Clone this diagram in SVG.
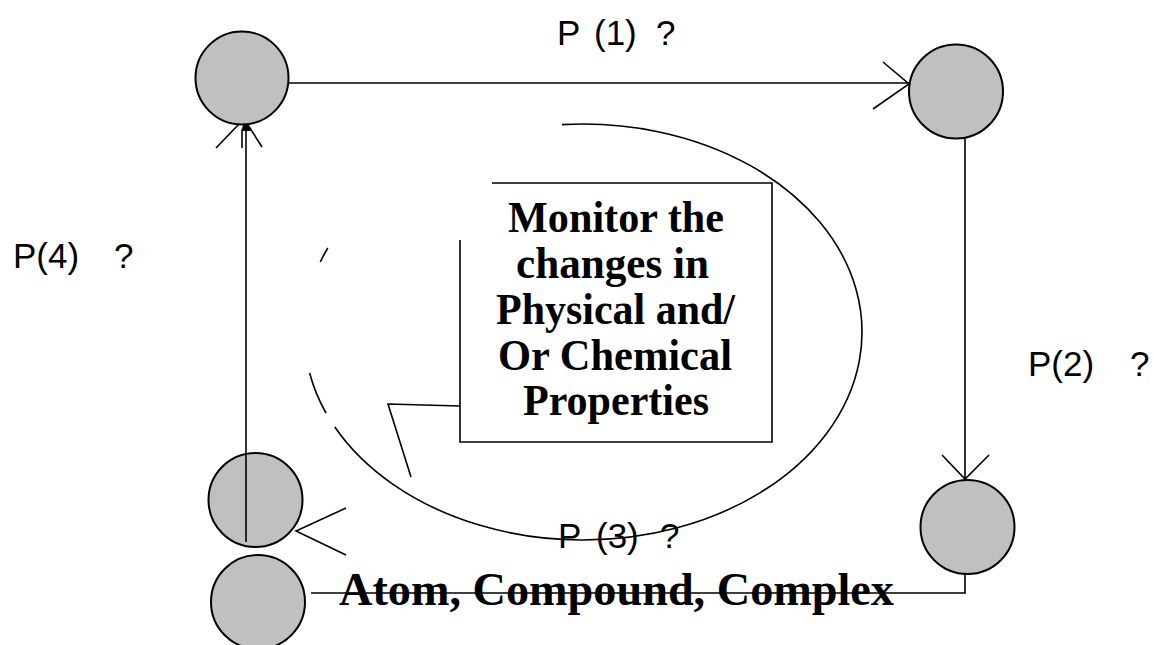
<svg xmlns="http://www.w3.org/2000/svg" width="1154" height="645" viewBox="0 0 1154 645">
<style>
.node circle{fill:#c0c0c0;stroke:#000;stroke-width:2}
.ln{fill:none;stroke:#000;stroke-width:1.6}
.lbl{font-family:"Liberation Sans",Arial,sans-serif;font-size:35px;fill:#000}
.bt{font-family:"Liberation Serif","Times New Roman",serif;font-weight:bold;fill:#000}
</style>
<rect width="1154" height="645" fill="#fff"/>
<g id="cycle">
<path class="ln" d="M562,124.6 A279,208 0 1 1 334.8,427"/>
<path class="ln" d="M326,413 A279,208 0 0 1 309.6,373"/>
<path class="ln" d="M327.8,248 A279,208 0 0 0 320.3,262"/>
</g>
<g id="connectors">
<line class="ln" x1="288" y1="83" x2="909" y2="83"/>
<polyline class="ln" points="883,62 909,84 873,109"/>
<line class="ln" x1="965" y1="138" x2="965" y2="479"/>
<polyline class="ln" points="942,455 965,479 989,455"/>
<polyline class="ln" points="965,573 965,593 311,593"/>
<polyline class="ln" points="346,508 296,531 346,555"/>
<line class="ln" x1="246" y1="542" x2="246" y2="130"/>
<line class="ln" x1="242" y1="130" x2="242" y2="148"/>
<polygon points="246,117 241,131 251,131" fill="#000"/>
<polyline class="ln" points="216,148 240,123"/>
<polyline class="ln" points="262,147 248,125"/>
</g>
<g id="n1" class="node"><circle cx="242" cy="78" r="46.5"/></g>
<g id="n2" class="node"><circle cx="956" cy="91.5" r="47"/></g>
<g id="n3" class="node"><circle cx="967.5" cy="527" r="47"/></g>
<g id="n4" class="node"><circle cx="255.5" cy="500" r="47"/></g>
<g id="n5" class="node"><circle cx="258" cy="602" r="47"/></g>
<line class="ln" x1="246" y1="455" x2="246" y2="542"/>
<g id="callout">
<rect x="460" y="183" width="312" height="259" fill="#fff" stroke="none"/>
<path class="ln" d="M492,183 H772 V442 H460 V240"/>
<polyline class="ln" points="460,406 388,404 411,477"/>
<text class="bt" font-size="45" x="508" y="232" textLength="216" lengthAdjust="spacingAndGlyphs">Monitor the</text>
<text class="bt" font-size="45" x="516" y="278" textLength="193" lengthAdjust="spacingAndGlyphs">changes in</text>
<text class="bt" font-size="45" x="496" y="324" textLength="239" lengthAdjust="spacingAndGlyphs">Physical and/</text>
<text class="bt" font-size="45" x="498" y="370" textLength="234" lengthAdjust="spacingAndGlyphs">Or Chemical</text>
<text class="bt" font-size="45" x="523" y="415" textLength="186" lengthAdjust="spacingAndGlyphs">Properties</text>
</g>
<g id="labels">
<text class="lbl" y="45"><tspan x="557">P</tspan><tspan x="594">(1)</tspan><tspan x="656">?</tspan></text>
<text class="lbl" x="13" y="268">P(4)<tspan x="114">?</tspan></text>
<text class="lbl" x="1028" y="376">P(2)<tspan x="1130">?</tspan></text>
<text class="lbl" y="548"><tspan x="558">P</tspan><tspan x="596">(3)</tspan><tspan x="660">?</tspan></text>
<text class="bt" font-size="46" x="339" y="605" textLength="555" lengthAdjust="spacingAndGlyphs">Atom, Compound, Complex</text>
</g>
</svg>
